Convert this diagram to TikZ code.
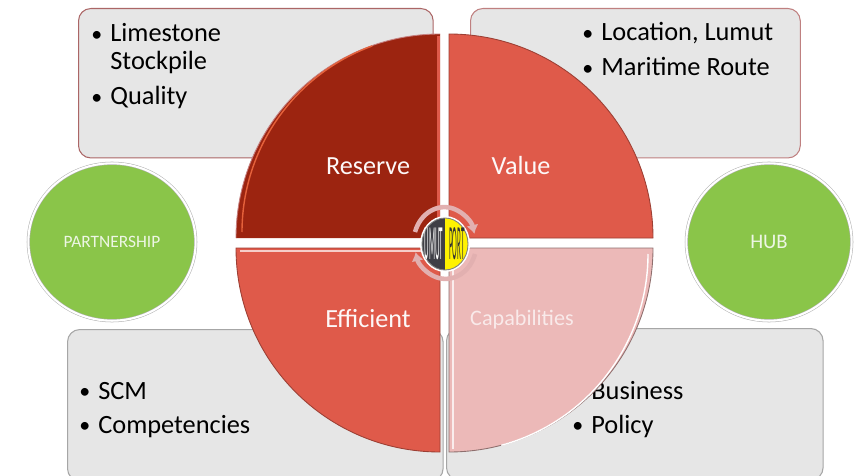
\documentclass[tikz,border=0pt]{standalone}
\usepackage{fontspec}
\setmainfont{Carlito}
\usetikzlibrary{arrows.meta,shapes.geometric}
\definecolor{boxgrey}{HTML}{E6E6E6}
\definecolor{leafgreen}{HTML}{8AC549}
\definecolor{darkred}{HTML}{9C2410}
\definecolor{midred}{HTML}{DF5A4A}
\definecolor{palered}{HTML}{ECB9B8}
\definecolor{ringpink}{HTML}{E2B0B0}
\definecolor{logogrey}{HTML}{3F3F46}
\tikzset{
  panel/.style={rectangle,rounded corners=7pt,fill=boxgrey,anchor=north west,inner sep=0pt,line width=.6pt},
  badge/.style={ellipse,fill=leafgreen,draw=black!30,double=white,double distance=1.2pt,
    line width=.3pt,inner sep=0pt,text=white!85!leafgreen,font=\fontsize{9.9}{11}\selectfont},
  listitem/.style={anchor=base west,inner sep=0pt,font=\fontsize{15}{16}\selectfont},
  bulletmark/.style={listitem,yshift=.4pt,font=\fontsize{12.5}{14}\selectfont},
  leaflabel/.style={anchor=base,inner sep=0pt,text=white!90!palered,font=\fontsize{14.9}{16}\selectfont},
  spinarc/.style={ringpink,line width=2.6pt,-{Latex[length=5pt,width=7pt]}},
}
\begin{document}
\begin{tikzpicture}[x=0.02cm,y=-0.02cm]
\useasboundingbox (0,0) rectangle (861,476);
% grey panels
\node[panel,draw=black!55!red!60,minimum width=356*0.567pt,minimum height=150*0.567pt] (reservebox) at (78,8) {};
\node[panel,draw=black!50!red!50,minimum width=331*0.567pt,minimum height=150*0.567pt] (valuebox) at (470,8) {};
\node[panel,draw=black!35,minimum width=377*0.567pt,minimum height=152*0.567pt] (efficientbox) at (67,329) {};
\node[panel,draw=black!35,minimum width=378*0.567pt,minimum height=152*0.567pt] (capabilitiesbox) at (446,328) {};
% lists
\node[bulletmark] (limestone) at (91,42) {\textbullet};
\node[listitem] (limestonetext) at (110,42) {Limestone};
\node[listitem] (stockpile) at (110,70) {Stockpile};
\node[bulletmark] (quality) at (91,105) {\textbullet};
\node[listitem] (qualitytext) at (110,105) {Quality};
\node[bulletmark] (location) at (582,41) {\textbullet};
\node[listitem] (locationtext) at (601,41) {Location, Lumut};
\node[bulletmark] (maritime) at (582,76) {\textbullet};
\node[listitem] (maritimetext) at (601,76) {Maritime Route};
\node[bulletmark] (scm) at (79,399) {\textbullet};
\node[listitem] (scmtext) at (98,399) {SCM};
\node[bulletmark] (competencies) at (79,433) {\textbullet};
\node[listitem] (competenciestext) at (98,433) {Competencies};
\node[bulletmark] (business) at (572,399) {\textbullet};
\node[listitem] (businesstext) at (591,399) {Business};
\node[bulletmark] (policy) at (572,433) {\textbullet};
\node[listitem] (policytext) at (591,433) {Policy};
% green circles
\node[badge,minimum width=168*0.567pt,minimum height=158*0.567pt] (partnership) at (112,242) {PARTNERSHIP};
\node[badge,minimum width=166*0.567pt,minimum height=158*0.567pt,font=\fontsize{11.8}{13}\selectfont] (hub) at (769,242) {HUB};
% quarters
\fill[darkred] (440,238) -- (236,238) arc[start angle=180,end angle=270,radius=204] -- cycle;
\fill[midred] (449,238) -- (449,34) arc[start angle=270,end angle=360,radius=204] -- cycle;
\fill[midred] (440,248) -- (440,452) arc[start angle=90,end angle=180,radius=204] -- cycle;
\fill[palered] (449,248) -- (653,248) arc[start angle=0,end angle=90,radius=204] -- cycle;
\draw[black!45!red!50,line width=.5pt] (236,238) arc[start angle=180,end angle=270,radius=204];
\draw[midred!70!black,line width=.5pt] (449,34) arc[start angle=270,end angle=360,radius=204] -- (449,238) -- cycle;
\draw[midred!70!black,line width=.5pt] (440,248) -- (236,248) arc[start angle=180,end angle=90,radius=204] -- cycle;
\draw[black!40!palered,line width=.5pt] (449,248) -- (653,248) arc[start angle=0,end angle=90,radius=204] -- cycle;
% bevels
\draw[midred!80!orange,line width=.8pt] (242,232) arc[start angle=180,end angle=250,radius=198];
\fill[midred] (437,36) rectangle (440,238);
\draw[white!70!midred,line width=.8pt] (240,251) -- (437,251);
\draw[white,line width=.8pt] (648,254) arc[start angle=0,end angle=75,radius=198];
\draw[white!75!palered,line width=.8pt] (453,252) -- (453,449);
\node[leaflabel] (reserve) at (368,174) {Reserve};
\node[leaflabel] (value) at (521,174) {Value};
\node[leaflabel] (efficient) at (368,327) {Efficient};
\node[leaflabel,text=white!70!palered,font=\fontsize{12.6}{14}\selectfont] (capabilities) at (522,325) {Capabilities};
% hub in the middle
\draw[spinarc] (415,232) arc[start angle=198,end angle=345,x radius=31,y radius=36];
\draw[spinarc] (475,254) arc[start angle=18,end angle=165,x radius=31,y radius=36];
\fill[white] (445,244) ellipse[x radius=25,y radius=28];
\fill[logogrey] (445,218) arc[start angle=270,end angle=90,x radius=23,y radius=26] -- cycle;
\fill[yellow] (445,218) arc[start angle=-90,end angle=90,x radius=23,y radius=26] -- cycle;
\draw[black!50,line width=.5pt] (445,244) ellipse[x radius=23,y radius=26];
\node[inner sep=0pt,xscale=.5,yscale=3.5,text=white,font=\fontsize{8}{9}\selectfont] (umut) at (434,244) {UMUT};
\node[inner sep=0pt,xscale=.5,yscale=3.5,text=black!80,font=\fontsize{8}{9}\selectfont] (port) at (457,244) {PORT};
\end{tikzpicture}
\end{document}
